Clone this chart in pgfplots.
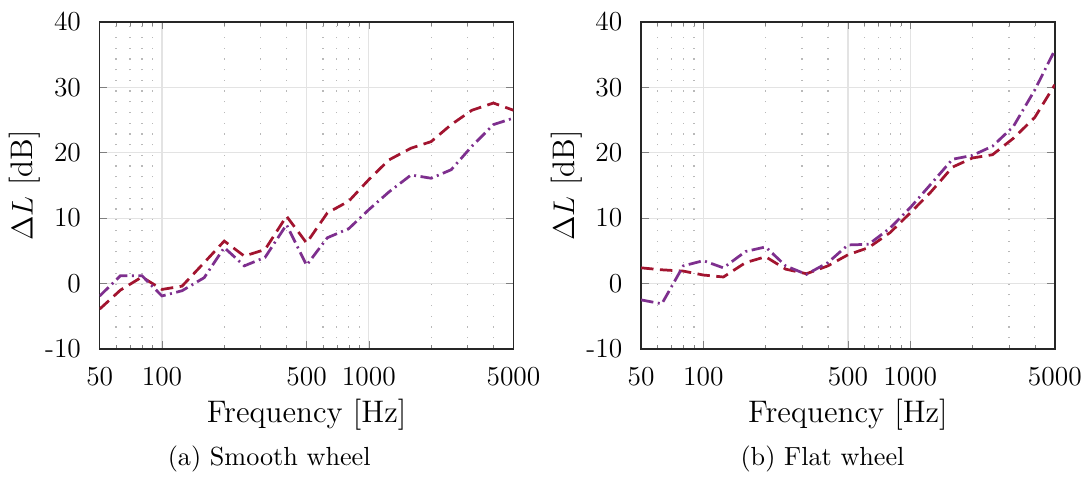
\documentclass[border=0pt]{standalone}
\usepackage{pgfplots}
\pgfplotsset{compat=1.18}
\definecolor{mred}{RGB}{162,20,47}
\definecolor{mpurple}{RGB}{126,47,142}
\definecolor{axc}{RGB}{38,38,38}
\pgfplotstableread{
f a b
50 -3.9 -1.9
63 -1.0 1.2
80 1.0 1.2
100 -0.9 -1.9
125 -0.4 -1.1
160 3.2 0.9
200 6.5 5.5
250 4.2 2.7
315 5.2 4.0
400 10.3 9.0
500 6.2 2.8
630 10.8 7.0
800 12.6 8.4
1000 15.9 11.3
1250 18.9 14.0
1600 20.7 16.6
2000 21.7 16.1
2500 24.3 17.4
3150 26.5 21.0
4000 27.6 24.3
5000 26.5 25.3
}\tabsmooth
\pgfplotstableread{
f a b
50 2.4 -2.5
63 2.1 -3.1
80 1.9 2.7
100 1.3 3.5
125 1.0 2.4
160 3.2 4.9
200 4.1 5.6
250 2.2 2.7
315 1.5 1.4
400 2.7 3.2
500 4.4 5.9
630 5.5 6.0
800 7.8 8.5
1000 10.8 11.6
1250 13.9 15.1
1600 17.8 19.0
2000 19.2 19.6
2500 19.7 21.0
3150 22.2 24.0
4000 25.4 29.6
5000 30.4 35.7
}\tabflat
\begin{document}
\begin{tikzpicture}
\begin{axis}[at={(0pt,0pt)}, anchor=south west,
    xmode=log, xmin=50, xmax=5000, ymin=-10, ymax=40,
    width=166pt, height=131.2pt, scale only axis,
    xtick={50,100,500,1000,5000},
    xticklabels={50,100,500,1000,5000},
    minor xtick={60,70,80,90,200,300,400,600,700,800,900,2000,3000,4000},
    ytick={-10,0,10,20,30,40},
    yticklabels={-10,0,10,20,30,40},
    grid=both,
    major grid style={gray!22, line width=0.45pt},
    minor grid style={gray!55, line width=0.5pt, dash pattern=on 0.5pt off 3.8pt},
    axis line style={axc, line width=0.6pt},
    tick align=inside,
    major tick length=3pt, minor tick length=1.6pt,
    xtick pos=both, ytick pos=both,
    tick label style={font=\fontsize{11}{13}\selectfont},
    xticklabel style={yshift=-4pt},
    yticklabel style={xshift=-4pt},
    label style={font=\fontsize{12.5}{15}\selectfont},
    xlabel={Frequency [Hz]},
    ylabel={$\Delta L$ [dB]},
    xlabel style={yshift=2pt},
    ylabel style={yshift=-5pt}]
\addplot[mred, line width=1.1pt, dash pattern=on 5pt off 2.6pt] table[x=f,y=a] {\tabsmooth};
\addplot[mpurple, line width=1.1pt, dash pattern=on 5pt off 1.8pt on 0.8pt off 1.8pt] table[x=f,y=b] {\tabsmooth};
\end{axis}
\begin{axis}[at={(217.2pt,0pt)}, anchor=south west,
    xmode=log, xmin=50, xmax=5000, ymin=-10, ymax=40,
    width=166pt, height=131.2pt, scale only axis,
    xtick={50,100,500,1000,5000},
    xticklabels={50,100,500,1000,5000},
    minor xtick={60,70,80,90,200,300,400,600,700,800,900,2000,3000,4000},
    ytick={-10,0,10,20,30,40},
    yticklabels={-10,0,10,20,30,40},
    grid=both,
    major grid style={gray!22, line width=0.45pt},
    minor grid style={gray!55, line width=0.5pt, dash pattern=on 0.5pt off 3.8pt},
    axis line style={axc, line width=0.6pt},
    tick align=inside,
    major tick length=3pt, minor tick length=1.6pt,
    xtick pos=both, ytick pos=both,
    tick label style={font=\fontsize{11}{13}\selectfont},
    xticklabel style={yshift=-4pt},
    yticklabel style={xshift=-4pt},
    label style={font=\fontsize{12.5}{15}\selectfont},
    xlabel={Frequency [Hz]},
    ylabel={$\Delta L$ [dB]},
    xlabel style={yshift=2pt},
    ylabel style={yshift=-5pt}]
\addplot[mred, line width=1.1pt, dash pattern=on 5pt off 2.6pt] table[x=f,y=a] {\tabflat};
\addplot[mpurple, line width=1.1pt, dash pattern=on 5pt off 1.8pt on 0.8pt off 1.8pt] table[x=f,y=b] {\tabflat};
\end{axis}
\node[font=\fontsize{10.5}{12}\selectfont] at (68pt,-44pt) {(a) Smooth wheel};
\node[font=\fontsize{10.5}{12}\selectfont] at (290pt,-44pt) {(b) Flat wheel};
\path (-40pt,-50pt) rectangle (396pt,140pt);
\end{tikzpicture}
\end{document}
